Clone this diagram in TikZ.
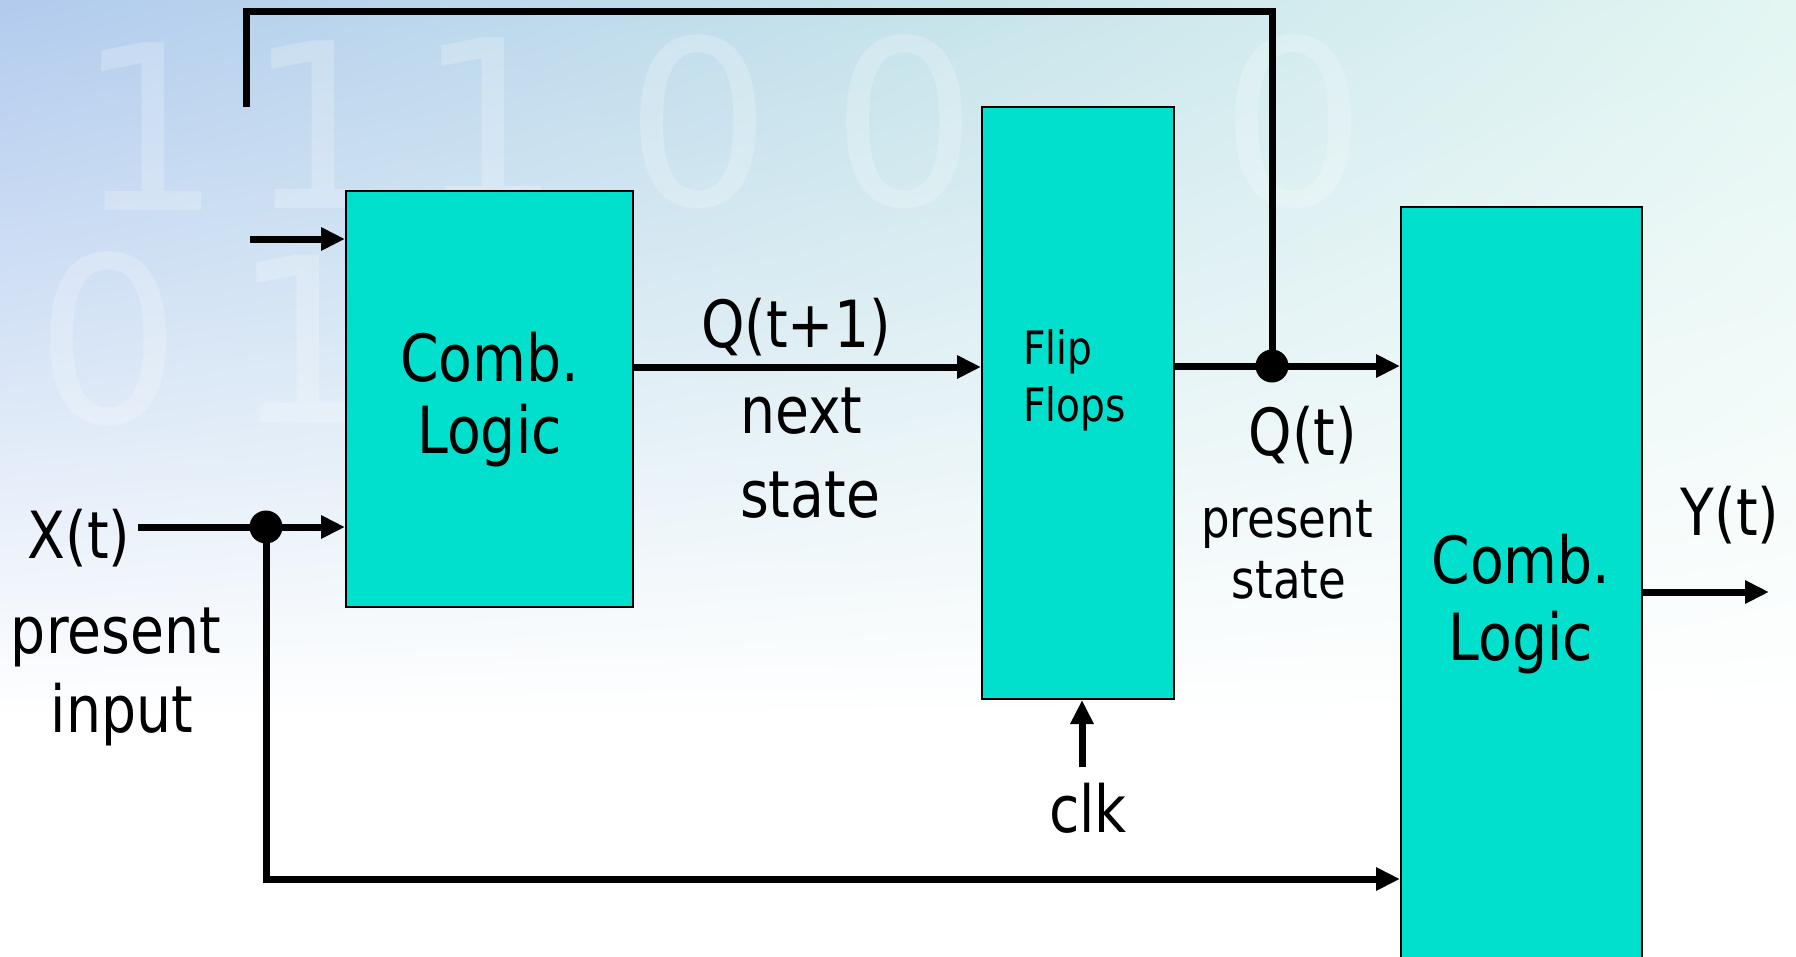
\documentclass[tikz,border=0pt]{standalone}
\usepackage{fontspec}
\newfontfamily\lbl[FakeStretch=0.85]{DejaVu Sans}
\usetikzlibrary{arrows.meta,calc,shadings}
\definecolor{boxfill}{RGB}{0,224,204}
\definecolor{bgTL}{RGB}{178,203,238}
\definecolor{bgTM}{RGB}{196,226,234}
\definecolor{bgTR}{RGB}{227,246,242}
\begin{document}
\begin{tikzpicture}[x=1pt,y=-1pt,
  box/.style={draw=black,line width=2pt,fill=boxfill,inner sep=0pt},
  wire/.style={line width=7pt,line join=miter},
  arr/.style={wire,-{Triangle[length=24pt,width=22pt]}},
  jdot/.style={circle,fill=black,inner sep=0pt,minimum size=33pt},
  big/.style={font=\lbl\fontsize{65}{72}\selectfont,inner sep=0pt,anchor=base},
  mid/.style={font=\lbl\fontsize{53}{60}\selectfont,inner sep=0pt,anchor=base},
  small/.style={font=\lbl\fontsize{46}{54}\selectfont,inner sep=0pt,anchor=base west},
  digit/.style={font=\fontspec{DejaVu Sans}\fontsize{230}{240}\selectfont,inner sep=0pt,anchor=base,text=white,text opacity=0.22}]
% background
\clip (0,0) rectangle (1796,956);
\fill[white] (0,0) rectangle (1796,956);
\shade[upper left=bgTL, upper right=bgTM, lower left=white, lower right=white] (0,0) rectangle (900,720);
\shade[upper left=bgTM, upper right=bgTR, lower left=white, lower right=white] (900,0) rectangle (1796,720);
\node[digit] (bg2) at (150,210) {1};
\node[digit] (bg3) at (320,208) {1};
\node[digit] (bg4) at (490,205) {1};
\node[digit] (bg5) at (699,205) {0};
\node[digit] (bg6) at (905,205) {0};
\node[digit] (bg7) at (1294,205) {0};
\node[digit] (bg8) at (109,422) {0};
\node[digit] (bg9) at (305,422) {1};
% boxes
\node[box,minimum width=287pt,minimum height=416pt] (cl1) at (489.5,399) {};
\node[box,minimum width=192pt,minimum height=592pt] (ff) at (1078,403) {};
\node[box,minimum width=241pt,minimum height=780pt] (cl2) at (1521.5,597) {};
% coordinates
\coordinate (qline) at (0,367);
\coordinate (j1) at (1272,366);
\coordinate (fbA) at (1272,11);
\coordinate (fbB) at (246,11);
\coordinate (fbC) at (246,107);
\coordinate (inA) at (250,239);
\coordinate (xs) at (138,527);
\coordinate (j2) at (266,527);
\coordinate (j2b) at (266,879);
\coordinate (clks) at (1082,767);
\coordinate (yend) at (1769,592);
% connectors
\draw[arr] (cl1.east |- qline) -- (ff.west |- qline);
\draw[wire] (ff.east |- j1) -- (j1);
\draw[arr] (j1) -- (cl2.west |- j1);
\draw[wire] (j1) -- (fbA) -- (fbB) -- (fbC);
\draw[arr] (inA) -- (cl1.west |- inA);
\draw[wire] (xs) -- (j2);
\draw[arr] (j2) -- (cl1.west |- j2);
\draw[arr] (j2) -- (j2b) -- (cl2.west |- j2b);
\draw[arr] (clks) -- (clks |- ff.south);
\draw[arr] (cl2.east |- yend) -- (yend);
\node[jdot] (d1) at (j1) {};
\node[jdot] (d2) at (j2) {};
% texts
\node[big] (c1a) at (489.5,381) {Comb.};
\node[big] (c1b) at (489.5,453) {Logic};
\node[big] (qt1) at (796,347) {Q(t+1)};
\node[big,anchor=base west] (nx) at (740,433) {next};
\node[big,anchor=base west] (st) at (740,517) {state};
\node[small] (fl1) at (1023,364) {Flip};
\node[small] (fl2) at (1023,421) {Flops};
\node[big] (qt) at (1303,455) {Q(t)};
\node[mid] (ps1) at (1287,537) {present};
\node[mid] (ps2) at (1289,598) {state};
\node[big] (c2a) at (1521,583) {Comb.};
\node[big] (c2b) at (1521,660) {Logic};
\node[big] (yt) at (1730,535) {Y(t)};
\node[big] (xt) at (79,558) {X(t)};
\node[big] (pi1) at (116,653) {present};
\node[big] (pi2) at (122,732) {input};
\node[big] (clk) at (1088,832) {clk};
\end{tikzpicture}
\end{document}
